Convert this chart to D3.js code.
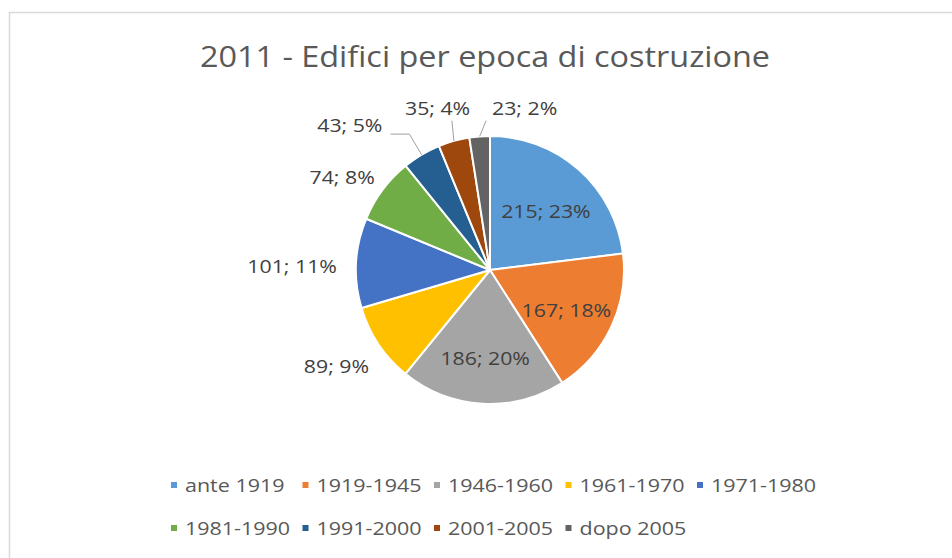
<!DOCTYPE html>
<html>
<head>
<meta charset="utf-8">
<script src="https://cdn.jsdelivr.net/npm/d3@7/dist/d3.min.js"></script>
<style>
  html, body { margin: 0; padding: 0; background: #ffffff; }
  svg { display: block; }
  text { font-family: "Open Sans", "Noto Sans", sans-serif; }
</style>
</head>
<body>
<svg id="chart" width="952" height="558"></svg>
<script>
// ---- data ----
const title = "2011 - Edifici per epoca di costruzione";
const categories = ["ante 1919", "1919-1945", "1946-1960", "1961-1970", "1971-1980",
                    "1981-1990", "1991-2000", "2001-2005", "dopo 2005"];
const values = [215, 167, 186, 89, 101, 74, 43, 35, 23];
const percentLabels = ["23%", "18%", "20%", "9%", "11%", "8%", "5%", "4%", "2%"];
const colors = ["#5B9BD5", "#ED7D31", "#A5A5A5", "#FFC000", "#4472C4",
                "#70AD47", "#255E91", "#9E480E", "#636363"];

// ---- layout ----
(function () {
const W = 952, H = 558;
const cx = 490, cy = 270, R = 134;
const STRETCH = 1.12;
const svg = d3.select("#chart");

function stretch(sel, k) {
  sel.each(function () {
    const len = this.getComputedTextLength();
    d3.select(this).attr("textLength", len * (k || STRETCH)).attr("lengthAdjust", "spacingAndGlyphs");
  });
}

// chart border
svg.append("rect")
  .attr("x", 9.5).attr("y", 12.5)
  .attr("width", W + 20).attr("height", H + 20)
  .attr("fill", "#ffffff").attr("stroke", "#d9d9d9").attr("stroke-width", 1.5);

// title
const t = svg.append("text")
  .attr("x", 485).attr("y", 67)
  .attr("text-anchor", "middle")
  .attr("font-size", 30)
  .attr("fill", "#595959")
  .text(title);
stretch(t, 1.08);

// pie
const pie = d3.pie().sort(null).value(d => d)(values);
const arc = d3.arc().innerRadius(0).outerRadius(R);
const g = svg.append("g").attr("transform", `translate(${cx},${cy})`);
g.selectAll("path.slice").data(pie).join("path")
  .attr("class", "slice")
  .attr("d", arc)
  .attr("fill", (d, i) => colors[i])
  .attr("stroke", "#ffffff")
  .attr("stroke-width", 2)
  .attr("stroke-linejoin", "round");

// labels
const labelG = svg.append("g");
const fs = 19;
const textH = fs * 0.72;
const boxes = [];
pie.forEach((d, i) => {
  const mid = (d.startAngle + d.endAngle) / 2;
  const ux = Math.sin(mid), uy = -Math.cos(mid);
  const frac = (d.endAngle - d.startAngle) / (2 * Math.PI);
  const txt = labelG.append("text")
    .attr("font-size", fs)
    .attr("fill", "#404040")
    .attr("text-anchor", "middle")
    .text(values[i] + "; " + percentLabels[i]);
  stretch(txt);
  const w = txt.node().getComputedTextLength() * STRETCH;
  let bx, by, mode;
  if (frac > 0.15) {
    const k = 0.63 * R;
    bx = cx + k * ux; by = cy + k * uy + 4;
    mode = "inside";
  } else if (frac > 0.07) {
    const p = R + 14;
    bx = cx + p * ux + ux * w / 2;
    by = cy + p * uy + uy * (textH / 2 + 4) + 5 * (1 + uy);
    mode = "outside";
  } else {
    mode = "leader";
    const p = R + 24;
    const lx = cx + p * ux, ly = cy + p * uy;
    if (Math.abs(ux) > 0.4) {
      bx = lx - 20 - w / 2 - 3; by = ly - 9;
    } else {
      bx = lx + ux * w / 2; by = ly - 10;
    }
  }
  boxes.push({ i, txt, w, bx, by, ux, uy, mode });
});

// align the top-row leader labels and resolve horizontal overlaps
const topRow = boxes.filter(b => b.mode === "leader" && Math.abs(b.ux) <= 0.4).sort((a, b) => a.bx - b.bx);
const rowBy = d3.max(topRow, b => b.by);
topRow.forEach(b => { b.by = rowBy; });
for (let j = 1; j < topRow.length; j++) {
  const prev = topRow[j - 1], cur = topRow[j];
  const minX = prev.bx + prev.w / 2 + 14 + cur.w / 2;
  if (cur.bx < minX) cur.bx = minX;
}

boxes.forEach(b => {
  b.txt.attr("x", b.bx).attr("y", b.by + textH / 2);
  if (b.mode === "leader") {
    const ex = cx + R * b.ux, ey = cy + R * b.uy;
    const p = R + 24;
    const lx = cx + p * b.ux, ly = cy + p * b.uy;
    let pts;
    if (Math.abs(b.ux) > 0.4) {
      pts = [[ex, ey], [lx, ly], [b.bx + b.w / 2 + 4, ly]];
    } else {
      const left = b.bx - b.w / 2, bottom = b.by + textH / 2;
      const tx = Math.max(left + 2, Math.min(b.bx + b.w / 2, ex));
      const tyy = bottom + 6;
      pts = [[ex, ey], [Math.abs(tx - ex) < 4 ? ex - 2 : tx - 4, tyy]];
    }
    labelG.append("path")
      .attr("d", d3.line()(pts))
      .attr("fill", "none")
      .attr("stroke", "#a0a0a0")
      .attr("stroke-width", 1);
  }
});

// legend
const legend = svg.append("g");
const rows = [categories.slice(0, 5), categories.slice(5)];
const colW = 131.5;
const legendX0 = 171;
const rowY = [485, 528];
rows.forEach((row, r) => {
  row.forEach((name, c) => {
    const idx = r * 5 + c;
    const x = legendX0 + c * colW;
    legend.append("rect")
      .attr("x", x).attr("y", rowY[r] - 3)
      .attr("width", 6).attr("height", 6)
      .attr("fill", colors[idx]);
    const lt = legend.append("text")
      .attr("x", x + 14).attr("y", rowY[r] + 7)
      .attr("font-size", 19)
      .attr("fill", "#595959")
      .text(name);
    stretch(lt, 1.13);
  });
});
})();
</script>
</body>
</html>
